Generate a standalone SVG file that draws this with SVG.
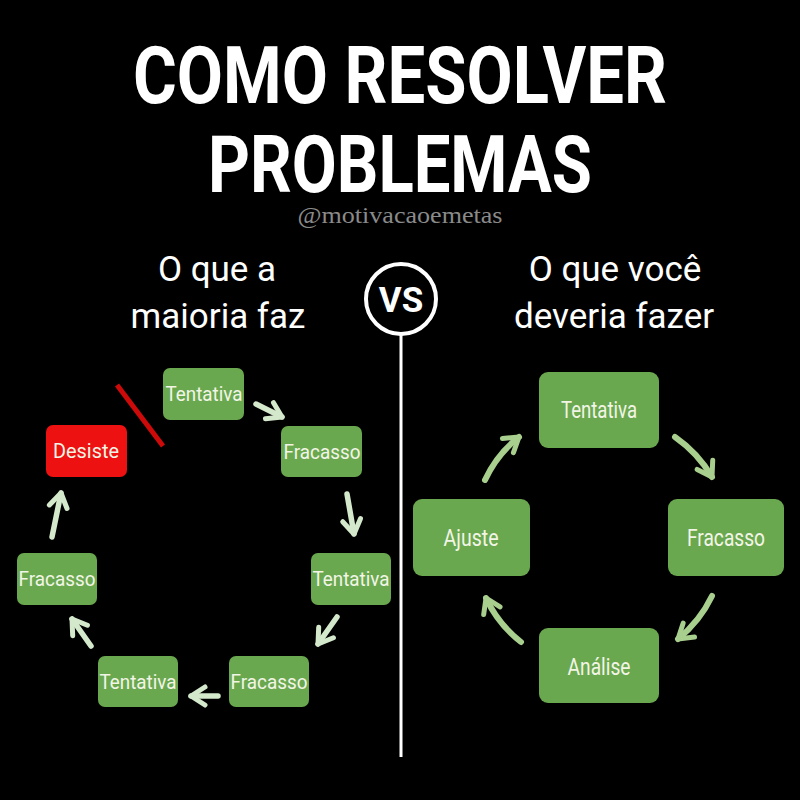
<svg xmlns="http://www.w3.org/2000/svg" width="800" height="800" viewBox="0 0 800 800">
<style>
.title{font-family:Roboto,"Liberation Sans",sans-serif;font-weight:700;font-size:80px;fill:#fff;text-anchor:middle}
.sub{font-family:Roboto,"Liberation Sans",sans-serif;font-size:35px;fill:#fff;text-anchor:middle}
.box{fill:#6aa84f}
.lbl{font-family:Roboto,"Liberation Sans",sans-serif;font-size:21px;fill:#f2f5e6;text-anchor:middle}
.rl{font-size:23px}
.la{fill:none;stroke:#d4e8cb;stroke-width:5.5;stroke-linecap:round;marker-end:url(#hl)}
.ra{fill:none;stroke:#a8cf8e;stroke-width:6;stroke-linecap:round;marker-end:url(#hr)}
</style>
<defs>
<marker id="hl" viewBox="0 0 20 20" refX="17" refY="10" markerWidth="20" markerHeight="20" markerUnits="userSpaceOnUse" orient="auto" overflow="visible">
<path d="M3,1 L17,10 L3,19" fill="none" stroke="#d4e8cb" stroke-width="5" stroke-linecap="round" stroke-linejoin="round"/>
</marker>
<marker id="hr" viewBox="0 0 20 20" refX="17" refY="10" markerWidth="20" markerHeight="20" markerUnits="userSpaceOnUse" orient="auto" overflow="visible">
<path d="M3,1 L17,10 L3,19" fill="none" stroke="#a8cf8e" stroke-width="5" stroke-linecap="round" stroke-linejoin="round"/>
</marker>
</defs>
<rect x="0" y="0" width="800" height="800" fill="#000"/>
<g id="title">
<text class="title" x="400" y="103" textLength="534" lengthAdjust="spacingAndGlyphs">COMO RESOLVER</text>
<text class="title" x="400" y="192" textLength="384" lengthAdjust="spacingAndGlyphs">PROBLEMAS</text>
<text x="400" y="223" font-family="'Liberation Serif',serif" font-size="24" fill="#8a8a8a" text-anchor="middle" textLength="205" lengthAdjust="spacingAndGlyphs">@motivacaoemetas</text>
</g>
<g id="subtitles">
<text class="sub" x="217" y="281">O que a</text>
<text class="sub" x="218" y="328">maioria faz</text>
<text class="sub" x="615" y="281">O que você</text>
<text class="sub" x="614" y="328">deveria fazer</text>
</g>
<g id="vs">
<circle cx="401" cy="299" r="35" fill="#000" stroke="#fff" stroke-width="4"/>
<text x="401" y="312" font-family="Roboto,'Liberation Sans',sans-serif" font-weight="700" font-size="35" fill="#fff" text-anchor="middle">VS</text>
<line x1="401" y1="334" x2="401" y2="757" stroke="#fff" stroke-width="3"/>
</g>
<g id="connectors">
<path class="la" d="M256,404 L282,417"/>
<path class="la" d="M347,494 L354,534"/>
<path class="la" d="M337,617 L318,644"/>
<path class="la" d="M218,696 L191,696"/>
<path class="la" d="M91,646 L72,619"/>
<path class="la" d="M52,537 L61,493"/>
<line x1="117" y1="385" x2="163" y2="446" stroke="#cc0a0a" stroke-width="5"/>
<path class="ra" d="M675,437 Q698,453 712,477"/>
<path class="ra" d="M712,596 Q700,621 678,639"/>
<path class="ra" d="M521,642 Q498,624 486,598"/>
<path class="ra" d="M485,480 Q497,454 519,437"/>
</g>
<g id="l-tentativa1"><rect class="box" x="163" y="368" width="81" height="52" rx="7"/><text class="lbl" x="204" y="401" textLength="77" lengthAdjust="spacingAndGlyphs">Tentativa</text></g>
<g id="l-fracasso1"><rect class="box" x="281" y="426" width="81" height="51" rx="7"/><text class="lbl" x="322" y="459" textLength="77" lengthAdjust="spacingAndGlyphs">Fracasso</text></g>
<g id="l-tentativa2"><rect class="box" x="311" y="553" width="80" height="52" rx="7"/><text class="lbl" x="351" y="586" textLength="77" lengthAdjust="spacingAndGlyphs">Tentativa</text></g>
<g id="l-fracasso2"><rect class="box" x="229" y="656" width="80" height="51" rx="7"/><text class="lbl" x="269" y="689" textLength="77" lengthAdjust="spacingAndGlyphs">Fracasso</text></g>
<g id="l-tentativa3"><rect class="box" x="98" y="656" width="80" height="51" rx="7"/><text class="lbl" x="138" y="689" textLength="77" lengthAdjust="spacingAndGlyphs">Tentativa</text></g>
<g id="l-fracasso3"><rect class="box" x="17" y="553" width="80" height="52" rx="7"/><text class="lbl" x="57" y="586" textLength="77" lengthAdjust="spacingAndGlyphs">Fracasso</text></g>
<g id="l-desiste"><rect x="46" y="425" width="81" height="52" rx="7" fill="#ee1111"/><text class="lbl" x="86" y="458" textLength="66" lengthAdjust="spacingAndGlyphs">Desiste</text></g>
<g id="r-tentativa"><rect class="box" x="539" y="372" width="120" height="76" rx="9"/><text class="lbl rl" x="599" y="418" textLength="76" lengthAdjust="spacingAndGlyphs">Tentativa</text></g>
<g id="r-fracasso"><rect class="box" x="668" y="499" width="116" height="77" rx="9"/><text class="lbl rl" x="726" y="546" textLength="78" lengthAdjust="spacingAndGlyphs">Fracasso</text></g>
<g id="r-analise"><rect class="box" x="539" y="628" width="120" height="75" rx="9"/><text class="lbl rl" x="599" y="675" textLength="63" lengthAdjust="spacingAndGlyphs">Análise</text></g>
<g id="r-ajuste"><rect class="box" x="413" y="499" width="117" height="77" rx="9"/><text class="lbl rl" x="471" y="546" textLength="55" lengthAdjust="spacingAndGlyphs">Ajuste</text></g>
</svg>
